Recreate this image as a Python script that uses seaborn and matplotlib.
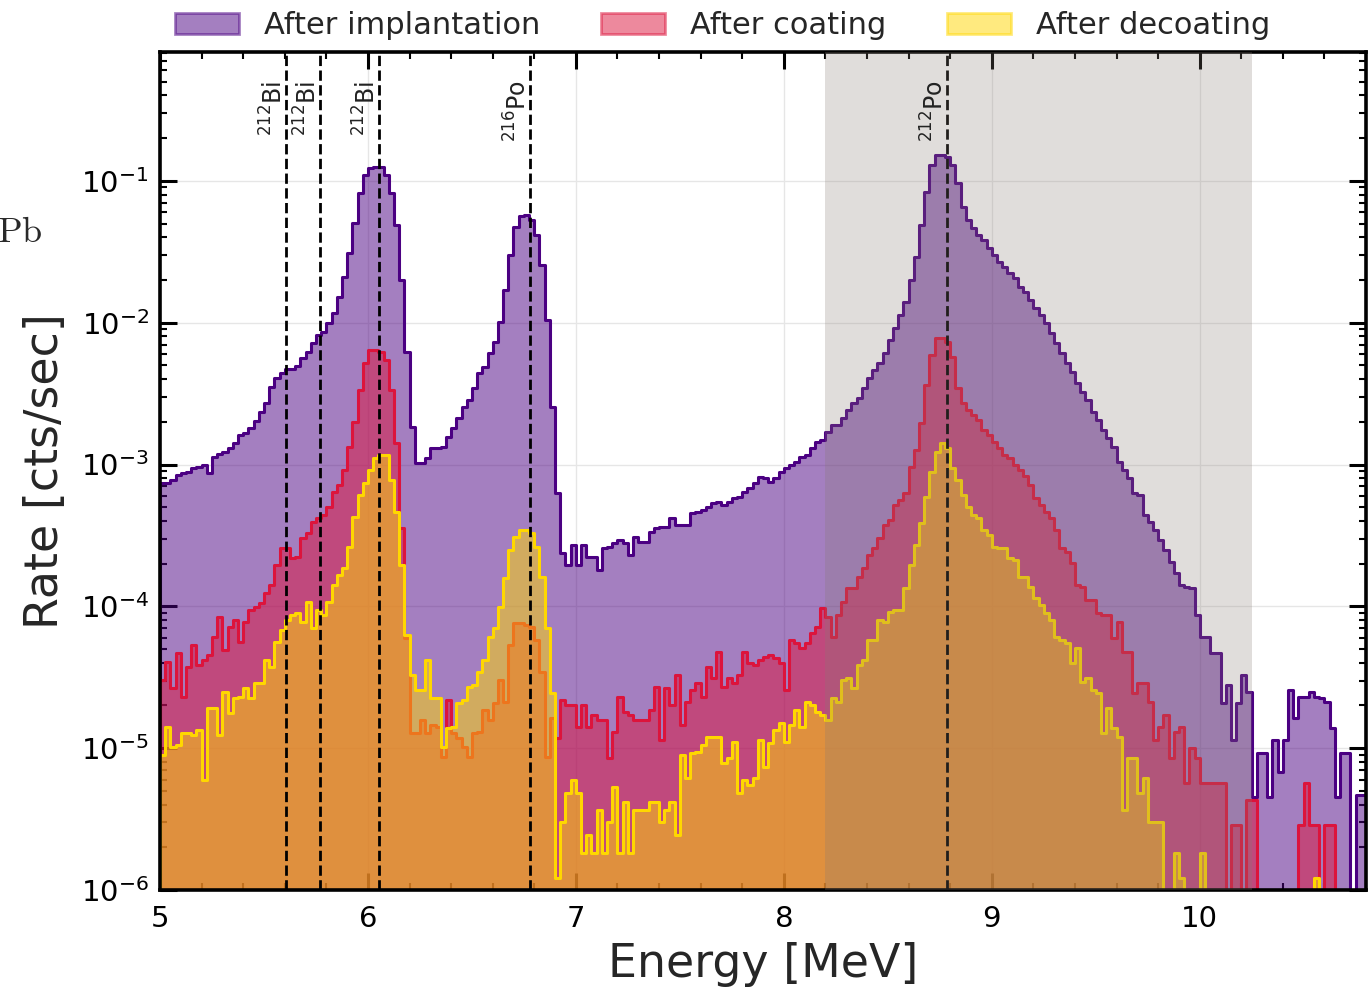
import numpy as np
import pandas as pd
import matplotlib
matplotlib.use("Agg")
import matplotlib.pyplot as plt
from matplotlib.patches import Patch
from matplotlib.ticker import MultipleLocator, LogLocator, NullFormatter
from matplotlib.transforms import blended_transform_factory
import seaborn as sns

# Energy binning of the alpha spectra (MeV)
E_MIN, E_MAX, BIN_WIDTH = 5.0, 10.8, 0.025

# Rates per 25 keV bin [cts/sec], starting at 5.0 MeV
rate_implantation = [
    7.4e-4, 7.4e-4, 7.8e-4, 8.5e-4, 8.7e-4, 8.9e-4, 9.5e-4, 9.6e-4, 9.9e-4, 8.7e-4,
    1.13e-3, 1.19e-3, 1.23e-3, 1.31e-3, 1.42e-3, 1.62e-3, 1.67e-3, 1.81e-3, 2.03e-3, 2.35e-3,
    2.72e-3, 3.52e-3, 4.08e-3, 4.43e-3, 4.72e-3, 4.72e-3, 4.96e-3, 5.65e-3, 6.22e-3, 7.21e-3,
    8.20e-3, 8.61e-3, 1.00e-2, 1.17e-2, 1.52e-2, 2.10e-2, 3.10e-2, 5.06e-2, 8.22e-2, 0.110,
    0.124, 0.126, 0.126, 0.110, 0.0822, 0.0490, 0.0200, 6.22e-3, 1.84e-3, 1.03e-3,
    1.03e-3, 1.11e-3, 1.31e-3, 1.31e-3, 1.33e-3, 1.57e-3, 1.81e-3, 2.13e-3, 2.55e-3, 2.86e-3,
    3.47e-3, 4.43e-3, 4.88e-3, 6.12e-3, 7.33e-3, 1.01e-2, 1.70e-2, 3.01e-2, 4.74e-2, 5.66e-2,
    5.75e-2, 5.31e-2, 4.16e-2, 2.56e-2, 1.05e-2, 2.55e-3, 6.31e-4, 2.38e-4, 1.96e-4, 2.71e-4,
    1.96e-4, 2.71e-4, 2.23e-4, 2.23e-4, 1.81e-4, 2.58e-4, 2.62e-4, 2.80e-4, 2.94e-4, 2.80e-4,
    2.31e-4, 3.09e-4, 2.84e-4, 2.84e-4, 3.35e-4, 3.57e-4, 3.63e-4, 3.63e-4, 4.20e-4, 3.75e-4,
    3.75e-4, 3.75e-4, 4.56e-4, 4.63e-4, 4.79e-4, 5.02e-4, 5.36e-4, 5.45e-4, 5.19e-4, 5.45e-4,
    5.81e-4, 5.91e-4, 6.41e-4, 6.84e-4, 7.42e-4, 8.18e-4, 8.05e-4, 7.54e-4, 8.05e-4, 8.87e-4,
    9.47e-4, 9.93e-4, 1.04e-3, 1.13e-3, 1.17e-3, 1.31e-3, 1.44e-3, 1.49e-3, 1.70e-3, 1.90e-3,
    1.90e-3, 2.13e-3, 2.43e-3, 2.72e-3, 2.95e-3, 3.47e-3, 4.08e-3, 4.65e-3, 5.21e-3, 6.12e-3,
    7.57e-3, 9.19e-3, 1.14e-2, 1.40e-2, 2.00e-2, 2.91e-2, 4.90e-2, 8.36e-2, 0.130, 0.152,
    0.152, 0.148, 0.130, 0.097, 0.0656, 0.0531, 0.0466, 0.0416, 0.0384, 0.0337,
    0.0301, 0.0269, 0.0248, 0.0224, 0.0207, 0.0179, 0.0165, 0.0145, 0.0127, 0.0114,
    0.0100, 8.47e-3, 7.21e-3, 6.12e-3, 5.21e-3, 4.50e-3, 3.76e-3, 3.25e-3, 2.86e-3, 2.35e-3,
    2.07e-3, 1.75e-3, 1.54e-3, 1.33e-3, 1.04e-3, 9.16e-4, 8.05e-4, 6.31e-4, 6.11e-4, 4.41e-4,
    3.93e-4, 3.46e-4, 2.94e-4, 2.50e-4, 2.06e-4, 1.72e-4, 1.42e-4, 1.37e-4, 1.35e-4, 8.69e-5,
    6.08e-5, 6.08e-5, 4.69e-5, 4.69e-5, 2.08e-5, 2.79e-5, 1.14e-5, 2.08e-5, 3.28e-5, 2.49e-5,
    4.53e-6, 9.25e-6, 9.25e-6, 4.53e-6, 1.14e-5, 6.80e-6, 1.14e-5, 2.57e-5, 1.63e-5, 2.30e-5,
    2.30e-5, 2.49e-5, 2.30e-5, 2.26e-5, 2.12e-5, 1.39e-5, 4.53e-6, 9.25e-6, 9.25e-6, 0.0,
    4.68e-6, 4.68e-6,
]

rate_coating = [
    3.03e-5, 4.06e-5, 2.66e-5, 4.69e-5, 2.30e-5, 3.74e-5, 5.34e-5, 3.86e-5, 4.19e-5, 4.54e-5,
    6.08e-5, 8.41e-5, 4.93e-5, 7.16e-5, 8.02e-5, 5.61e-5, 7.76e-5, 9.44e-5, 9.90e-5, 1.06e-4,
    1.24e-4, 1.42e-4, 1.96e-4, 2.58e-4, 2.58e-4, 2.19e-4, 2.23e-4, 3.04e-4, 3.30e-4, 3.93e-4,
    4.20e-4, 4.41e-4, 5.02e-4, 6.41e-4, 7.18e-4, 9.16e-4, 1.33e-3, 2.00e-3, 3.36e-3, 5.21e-3,
    6.43e-3, 6.43e-3, 6.22e-3, 5.47e-3, 3.36e-3, 1.42e-3, 3.57e-4, 6.0e-5, 1.28e-5, 1.28e-5,
    1.58e-5, 1.28e-5, 1.46e-5, 1.41e-5, 8.67e-6, 2.19e-5, 1.28e-5, 1.18e-5, 1.02e-5, 8.67e-6,
    1.28e-5, 1.30e-5, 1.86e-5, 1.58e-5, 2.08e-5, 3.03e-5, 2.12e-5, 5.34e-5, 7.63e-5, 7.63e-5,
    7.39e-5, 7.16e-5, 5.79e-5, 3.44e-5, 8.67e-6, 1.63e-5, 1.18e-5, 2.19e-5, 2.02e-5, 2.02e-5,
    1.41e-5, 2.02e-5, 1.41e-5, 1.71e-5, 1.58e-5, 1.58e-5, 8.53e-6, 1.30e-5, 2.30e-5, 1.80e-5,
    1.71e-5, 1.58e-5, 1.58e-5, 1.58e-5, 1.86e-5, 2.70e-5, 1.14e-5, 2.66e-5, 2.02e-5, 3.28e-5,
    1.46e-5, 2.12e-5, 2.57e-5, 2.88e-5, 2.30e-5, 3.74e-5, 3.13e-5, 4.77e-5, 2.70e-5, 3.13e-5,
    2.88e-5, 3.28e-5, 4.77e-5, 3.99e-5, 3.86e-5, 4.19e-5, 4.40e-5, 4.54e-5, 4.33e-5, 3.99e-5,
    2.57e-5, 5.79e-5, 5.52e-5, 5.09e-5, 5.52e-5, 6.49e-5, 7.16e-5, 9.75e-5, 8.41e-5, 6.08e-5,
    8.69e-5, 1.07e-4, 1.35e-4, 1.35e-4, 1.61e-4, 1.87e-4, 2.31e-4, 2.58e-4, 3.04e-4, 3.75e-4,
    4.06e-4, 5.19e-4, 5.62e-4, 6.31e-4, 9.62e-4, 1.27e-3, 1.97e-3, 3.64e-3, 5.93e-3, 7.81e-3,
    7.81e-3, 7.33e-3, 5.74e-3, 3.47e-3, 2.72e-3, 2.43e-3, 2.24e-3, 2.07e-3, 1.75e-3, 1.62e-3,
    1.44e-3, 1.31e-3, 1.17e-3, 1.11e-3, 9.93e-4, 9.16e-4, 8.32e-4, 7.18e-4, 5.81e-4, 5.19e-4,
    4.63e-4, 4.20e-4, 3.46e-4, 2.58e-4, 2.42e-4, 2.02e-4, 1.42e-4, 1.37e-4, 1.11e-4, 1.11e-4,
    8.98e-5, 8.69e-5, 8.69e-5, 5.97e-5, 7.76e-5, 4.77e-5, 4.77e-5, 2.45e-5, 2.88e-5, 2.88e-5,
    2.12e-5, 1.14e-5, 1.41e-5, 1.71e-5, 8.53e-6, 1.30e-5, 1.41e-5, 5.69e-6, 1.00e-5, 8.53e-6,
    5.69e-6, 5.69e-6, 5.69e-6, 5.69e-6, 5.69e-6, 0.0, 2.87e-6, 2.87e-6, 0.0, 4.31e-6,
    4.31e-6, 0.0, 0.0, 0.0, 0.0, 0.0, 0.0, 0.0, 0.0, 2.87e-6,
    5.69e-6, 2.87e-6, 2.87e-6, 0.0, 2.87e-6, 2.87e-6, 0.0, 0.0, 0.0, 0.0,
    0.0, 0.0,
]

rate_decoating = [
    8.95e-6, 1.41e-5, 1.02e-5, 1.05e-5, 1.28e-5, 1.28e-5, 1.24e-5, 1.34e-5, 5.97e-6, 1.92e-5,
    1.92e-5, 1.24e-5, 2.49e-5, 1.77e-5, 2.26e-5, 2.30e-5, 2.66e-5, 2.26e-5, 2.88e-5, 2.88e-5,
    4.19e-5, 3.74e-5, 5.61e-5, 6.82e-5, 8.02e-5, 8.69e-5, 8.98e-5, 7.76e-5, 1.07e-4, 7.04e-5,
    9.44e-5, 8.69e-5, 1.07e-4, 1.42e-4, 1.66e-4, 1.87e-4, 2.62e-4, 4.27e-4, 6.11e-4, 7.42e-4,
    9.16e-4, 1.11e-3, 1.17e-3, 1.17e-3, 7.78e-4, 4.63e-4, 1.96e-4, 6.28e-5, 3.28e-5, 2.57e-5,
    2.57e-5, 4.19e-5, 2.26e-5, 2.26e-5, 1.02e-5, 1.39e-5, 1.41e-5, 2.08e-5, 2.19e-5, 2.70e-5,
    2.79e-5, 3.44e-5, 4.19e-5, 6.08e-5, 7.04e-5, 9.90e-5, 1.58e-4, 2.50e-4, 3.09e-4, 3.46e-4,
    3.46e-4, 3.30e-4, 2.62e-4, 1.61e-4, 7.04e-5, 2.45e-5, 1.22e-6, 3.02e-6, 4.83e-6, 5.97e-6,
    4.83e-6, 1.82e-6, 2.44e-6, 1.82e-6, 3.67e-6, 1.82e-6, 3.02e-6, 5.32e-6, 1.82e-6, 4.18e-6,
    1.82e-6, 3.67e-6, 3.67e-6, 3.67e-6, 4.18e-6, 4.18e-6, 3.02e-6, 3.67e-6, 4.18e-6, 2.44e-6,
    8.95e-6, 6.16e-6, 9.25e-6, 9.40e-6, 1.05e-5, 1.20e-5, 1.20e-5, 1.20e-5, 7.87e-6, 8.53e-6,
    1.11e-5, 4.83e-6, 5.97e-6, 5.50e-6, 6.16e-6, 1.14e-5, 7.37e-6, 1.09e-5, 1.34e-5, 1.51e-5,
    1.11e-5, 1.46e-5, 1.86e-5, 1.41e-5, 2.12e-5, 2.02e-5, 1.80e-5, 1.71e-5, 1.58e-5, 2.26e-5,
    2.12e-5, 3.03e-5, 3.13e-5, 2.66e-5, 3.86e-5, 4.19e-5, 5.79e-5, 5.79e-5, 8.02e-5, 7.76e-5,
    9.14e-5, 9.44e-5, 9.44e-5, 1.35e-4, 1.96e-4, 2.71e-4, 3.87e-4, 5.91e-4, 8.87e-4, 1.23e-3,
    1.42e-3, 1.31e-3, 9.47e-4, 7.78e-4, 6.11e-4, 5.02e-4, 4.41e-4, 4.20e-4, 3.46e-4, 3.19e-4,
    2.62e-4, 2.58e-4, 2.58e-4, 2.19e-4, 2.12e-4, 1.61e-4, 1.61e-4, 1.37e-4, 1.15e-4, 1.02e-4,
    8.98e-5, 8.02e-5, 6.08e-5, 5.79e-5, 5.52e-5, 3.99e-5, 5.09e-5, 2.93e-5, 3.13e-5, 2.57e-5,
    2.45e-5, 1.28e-5, 1.92e-5, 1.39e-5, 1.20e-5, 3.67e-6, 8.53e-6, 8.53e-6, 4.83e-6, 6.16e-6,
    3.02e-6, 3.02e-6, 3.02e-6, 0.0, 0.0, 1.82e-6, 1.22e-6, 0.0, 0.0, 0.0,
    1.82e-6, 0.0, 0.0, 0.0, 0.0, 0.0, 0.0, 0.0, 0.0, 0.0,
    0.0, 0.0, 0.0, 0.0, 0.0, 0.0, 0.0, 0.0, 0.0, 0.0,
    0.0, 0.0, 1.22e-6, 0.0, 0.0, 0.0, 0.0, 0.0, 0.0, 0.0,
    0.0, 0.0,
]

series_names = ["After implantation", "After coating", "After decoating"]
series_colors = ["indigo", "crimson", "gold"]

# Alpha lines of the thorium chain (MeV) and their labels
line_energies = [5.607, 5.768, 6.051, 6.778, 8.785]
line_labels = [r"$^{212}$Bi", r"$^{212}$Bi", r"$^{212}$Bi", r"$^{216}$Po", r"$^{212}$Po"]

# Region of interest band (MeV)
roi_range = (8.2, 10.25)

sns.set_theme(style="white")
plt.rcParams["font.family"] = ["DejaVu Sans"]
plt.rcParams["axes.edgecolor"] = "black"

fig = plt.figure(figsize=(13.71, 9.90), dpi=100)
ax = fig.add_axes([0.1167, 0.101, 0.8797, 0.8465])

for name, rates, color in zip(series_names,
                              [rate_implantation, rate_coating, rate_decoating],
                              series_colors):
    rates = np.asarray(rates, dtype=float)
    centers = E_MIN + BIN_WIDTH * (np.arange(len(rates)) + 0.5)
    spectrum = pd.DataFrame({"energy": centers, "rate": rates})
    sns.histplot(data=spectrum, x="energy", weights="rate",
                 binwidth=BIN_WIDTH, binrange=(E_MIN, E_MAX),
                 element="step", fill=True, alpha=0.5, color=color,
                 linewidth=2.2, ax=ax)

ax.set_yscale("log")
ax.set_xlim(E_MIN, E_MAX)
ax.set_ylim(1e-6, 0.81)

# reference lines and their isotope labels
trans = blended_transform_factory(ax.transData, ax.transAxes)
for energy, label in zip(line_energies, line_labels):
    ax.axvline(energy, color="black", linestyle="--", linewidth=2.0, zorder=4)
    ax.text(energy + 0.008, 0.966, label, rotation=90, ha="right", va="top",
            fontsize=17, color="#222222", transform=trans, zorder=6)

ax.axvspan(*roi_range, color="#877b73", alpha=0.25, linewidth=0, zorder=5)

ax.set_axisbelow(True)
ax.grid(True, which="major", color="#e6e6e6", linestyle="-", linewidth=1.0)

ax.xaxis.set_major_locator(MultipleLocator(1))
ax.xaxis.set_minor_locator(MultipleLocator(0.2))
ax.yaxis.set_major_locator(LogLocator(base=10, numticks=10))
ax.yaxis.set_minor_locator(LogLocator(base=10, subs=np.arange(2, 10), numticks=20))
ax.yaxis.set_minor_formatter(NullFormatter())
ax.tick_params(which="both", direction="in", top=True, right=True,
               bottom=True, left=True, colors="black")
ax.tick_params(which="major", length=12, width=2.2, labelsize=21)
ax.tick_params(which="minor", length=5, width=1.5)
ax.tick_params(axis="x", which="major", pad=11)
ax.tick_params(axis="y", which="major", pad=8)
for spine in ax.spines.values():
    spine.set_linewidth(2.6)
    spine.set_color("black")

ax.set_xlabel("Energy [MeV]", fontsize=33, labelpad=6)
ax.set_ylabel("Rate [cts/sec]", fontsize=33, labelpad=9)

handles = [Patch(facecolor=c, edgecolor=c, alpha=0.5, linewidth=2) for c in series_colors]
fig.legend(handles, series_names, loc="upper center", bbox_to_anchor=(0.527, 1.001),
           ncol=3, frameon=False, fontsize=22, handlelength=2.1, handleheight=0.72,
           handletextpad=0.8, columnspacing=2.0, borderaxespad=0.0)

fig.text(-0.002, 0.766, r"$\mathrm{Pb}$", math_fontfamily="cm", fontsize=26,
         ha="left", va="center", color="#2a2a2a")

fig.savefig("out.png", dpi=100)
